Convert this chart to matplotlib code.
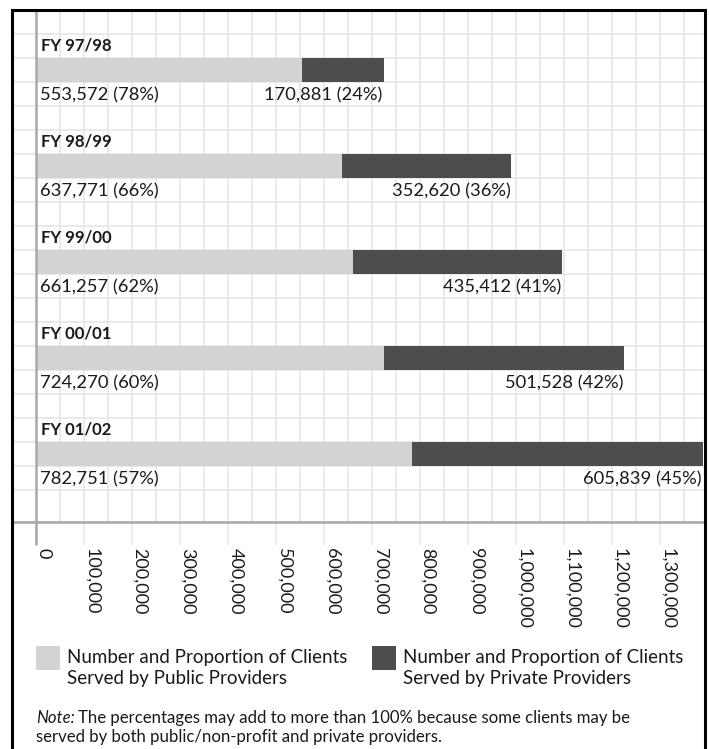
import matplotlib
matplotlib.use("Agg")
import matplotlib.pyplot as plt
from matplotlib.patches import Rectangle
import numpy as np

# Clients served per fiscal year, split by provider type
years = ["FY 97/98", "FY 98/99", "FY 99/00", "FY 00/01", "FY 01/02"]
public_clients = [553572, 637771, 661257, 724270, 782751]
public_pct = [78, 66, 62, 60, 57]
private_clients = [170881, 352620, 435412, 501528, 605839]
private_pct = [24, 36, 41, 42, 45]
tick_values = list(range(0, 1300001, 100000))
legend_labels = ["Number and Proportion of Clients\nServed by Public Providers",
                 "Number and Proportion of Clients\nServed by Private Providers"]
note_lead = "Note:"
note_rest = "The percentages may add to more than 100% because some clients may be"
note_line2 = "served by both public/non-profit and private providers."

W, H = 709, 749
plt.rcParams["font.family"] = ["Lato", "DejaVu Sans"]
fig = plt.figure(figsize=(W / 100, H / 100), dpi=100)


def fx(px):
    return px / W


def fy(py):
    return 1 - py / H


GRID = "#e6e6e6"
AXIS = "#a9a9a9"
LIGHT = "#d3d3d3"
DARK = "#4d4d4d"
INK = "#1a1a1a"

ax = fig.add_axes([fx(12), fy(522), (704 - 12) / W, (522 - 10) / H])
ax.set_xlim(-50000, 1391667)
ax.set_ylim(4.7083, -0.625)

# background grid
for v in np.arange(50000, 1391667, 50000):
    ax.axvline(v, color=GRID, lw=1.2, zorder=0)
for yv in np.arange(-0.375, 4.4, 0.25):
    ax.axhline(yv, color=GRID, lw=1.2, zorder=0)

y = np.arange(len(years))
totals = [p + q for p, q in zip(public_clients, private_clients)]
ax.barh(y, public_clients, height=0.25, color=LIGHT, zorder=2)
ax.barh(y, private_clients, left=public_clients, height=0.25, color=DARK, zorder=2)

FS = 13.2
for i in range(len(years)):
    ax.annotate(years[i], xy=(0, i - 0.25), xytext=(5, -4.7), textcoords="offset pixels",
                fontsize=12, fontweight="bold", ha="left", va="baseline", color=INK)
    ax.annotate(f"{public_clients[i]:,} ({public_pct[i]}%)", xy=(0, i + 0.25),
                xytext=(4, -6), textcoords="offset pixels",
                fontsize=FS, ha="left", va="baseline", color=INK)
    ax.annotate(f"{private_clients[i]:,} ({private_pct[i]}%)", xy=(totals[i], i + 0.25),
                xytext=(-1, -6), textcoords="offset pixels",
                fontsize=FS, ha="right", va="baseline", color=INK)

# value axis
for side in ["left", "right", "top"]:
    ax.spines[side].set_visible(False)
ax.spines["bottom"].set_color(AXIS)
ax.spines["bottom"].set_linewidth(1.9)
ax.set_yticks([])
ax.set_xticks(tick_values)
ax.set_xticklabels([f"{v:,}" for v in tick_values], rotation=270, ha="left", va="top",
                   color=INK)
ax.tick_params(axis="x", length=16.5, width=1.1, color=GRID, pad=2, labelsize=13)
ax.plot([0, 0], [1, -23 / 512], transform=ax.get_xaxis_transform(), color=AXIS,
        lw=1.8, clip_on=False, zorder=3, solid_capstyle="butt")

# outer frame
fig.add_artist(Rectangle((fx(12), fy(770)), (705 - 12) / W, (770 - 10) / H,
                         transform=fig.transFigure, fill=False, lw=2.2, ec="black", zorder=10))

# legend
for x0, col, lab in [(36, LIGHT, legend_labels[0]), (372, DARK, legend_labels[1])]:
    fig.add_artist(Rectangle((fx(x0), fy(670)), 24 / W, 24 / H, transform=fig.transFigure,
                             color=col, lw=0))
    fig.text(fx(x0 + 31), fy(684), lab, fontsize=13.5, ha="left", va="baseline",
             linespacing=1.3, color=INK)

# note
NS = 12.1
lead = fig.text(fx(36), fy(723), note_lead, fontsize=NS, style="italic",
                ha="left", va="baseline", color=INK)
fig.text(fx(36), fy(742), note_line2, fontsize=NS, ha="left", va="baseline", color=INK)
fig.canvas.draw()
ax.annotate(note_rest, xy=(1, 0), xycoords=lead, xytext=(3, 0), textcoords="offset pixels",
            fontsize=NS, ha="left", va="bottom", color=INK, annotation_clip=False)

fig.savefig("out.png", dpi=100)
